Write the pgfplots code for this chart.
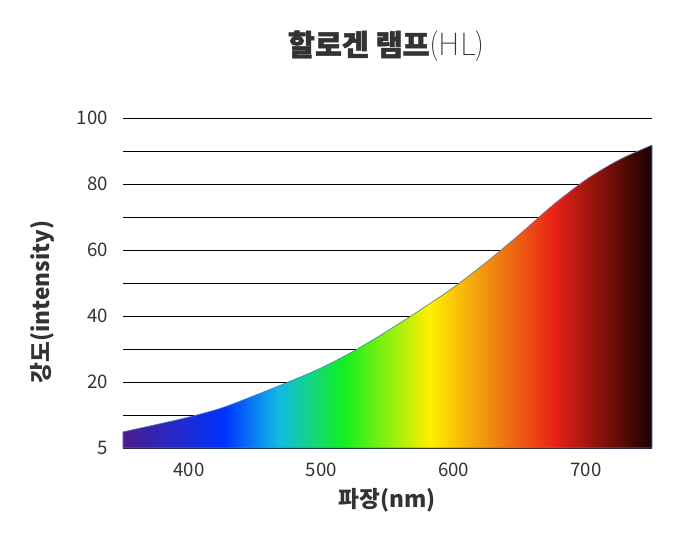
\documentclass[border=0pt]{standalone}
\usepackage{pgfplots}
\pgfplotsset{compat=1.18}
\usepackage{pgfplotstable}
\usepackage{fontspec}
\setmainfont{Noto Sans CJK KR}
\newfontfamily\heavyfont[BoldFeatures={FakeBold=1.6}]{Noto Sans CJK KR}
\newfontfamily\thinfont{Noto Sans CJK KR Thin}

\definecolor{txt}{HTML}{333333}
\definecolor{edge}{HTML}{5A7DB4}
\definecolor{sp1}{HTML}{4B1D8C}
\definecolor{sp2}{HTML}{0033FF}
\definecolor{sp3}{HTML}{12B8E8}
\definecolor{sp4}{HTML}{12F020}
\definecolor{sp5}{HTML}{FFF000}
\definecolor{sp6}{HTML}{F08A10}
\definecolor{sp7}{HTML}{E82015}
\definecolor{sp8}{HTML}{1A0000}

% path bbox maps to 25bp..75bp of the shading
\pgfdeclarehorizontalshading{spectrum}{100bp}{color(0bp)=(sp1); color(25bp)=(sp1);
  color(34.6bp)=(sp2); color(39.6bp)=(sp3); color(45.9bp)=(sp4); color(54bp)=(sp5);
  color(59.75bp)=(sp6); color(65.9bp)=(sp7); color(75bp)=(sp8); color(100bp)=(sp8)}

\pgfplotstableread{
nm intensity
350 4.9
375 7.1
400 9.4
425 12.2
450 16.0
475 20.0
500 24.3
525 29.5
550 35.5
575 41.9
600 48.7
625 56.4
650 64.8
675 73.6
700 81.3
725 87.3
750 91.8
}\halogen

\begin{document}
\begin{tikzpicture}
\begin{axis}[
    scale only axis,
    width=396.75pt, height=247.5pt,
    xmin=350, xmax=750, ymin=0, ymax=100,
    xtick={400,500,600,700},
    ytick={0,10,...,100},
    yticklabels={5,,20,,40,,60,,80,,100},
    ymajorgrids,
    grid style={black, line width=0.6pt},
    axis line style={draw=none},
    major tick length=0pt,
    /pgf/number format/assume math mode=true,
    ticklabel style={font=\fontsize{14}{16}\selectfont, text=txt, inner sep=0pt},
    yticklabel style={anchor=east, xshift=-11.25pt},
    xticklabel style={anchor=north, yshift=-11.25pt},
    clip=false,
]
\addplot[draw=edge, line width=0.5pt, shade, shading=spectrum, smooth]
    table[x=nm, y=intensity]{\halogen} \closedcycle;

\node[text=txt, font=\fontsize{22}{26}\selectfont] at (rel axis cs:0.498,1.218)
    {{\heavyfont\bfseries 할로겐 램프}{\thinfont\fontsize{23}{26}\selectfont\color{txt}(HL)}};
\node[text=txt, rotate=90, font=\bfseries\fontsize{17}{20}\selectfont] at (rel axis cs:-0.153,0.442)
    {강도(intensity)};
\node[text=txt, font=\bfseries\fontsize{17}{20}\selectfont] at (rel axis cs:0.5,-0.158)
    {파장(nm)};
\end{axis}
\path ([xshift=-92.25pt,yshift=-69pt]current axis.south west)
    rectangle ([xshift=28.5pt,yshift=88.5pt]current axis.north east);
\end{tikzpicture}
\end{document}
